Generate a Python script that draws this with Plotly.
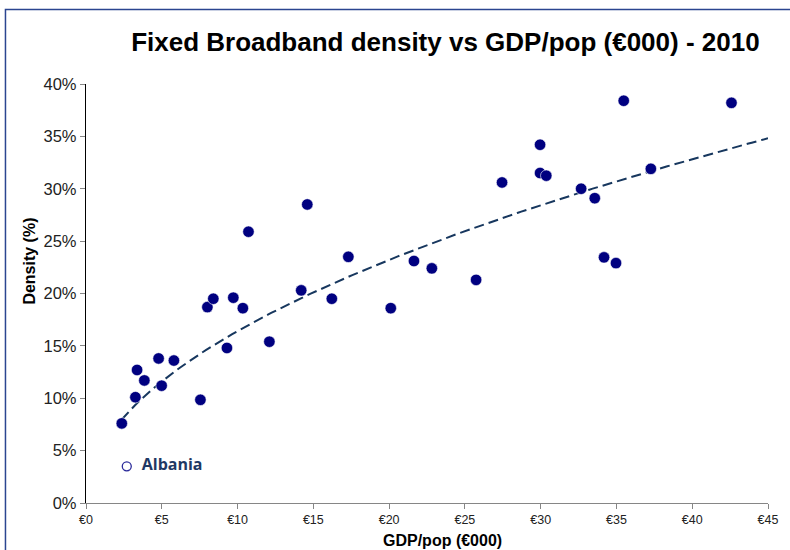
import numpy as np
import plotly.graph_objects as go

# GDP per capita (EUR 000) and fixed broadband density (%) - 2010
gdp = [2.36, 3.26, 3.37, 3.85, 4.79, 4.99, 5.80, 7.55, 8.01, 8.40, 9.30, 9.72,
       10.35, 10.72, 12.10, 14.20, 14.60, 16.22, 17.31, 20.11, 21.64, 22.82,
       25.74, 27.45, 29.96, 29.96, 30.37, 32.67, 33.57, 34.18, 34.97, 35.48,
       37.27, 42.59]
density = [7.6, 10.1, 12.7, 11.7, 13.8, 11.2, 13.6, 9.85, 18.7, 19.5, 14.8, 19.6,
           18.6, 25.9, 15.4, 20.3, 28.5, 19.5, 23.5, 18.6, 23.1, 22.4,
           21.3, 30.6, 34.2, 31.5, 31.25, 30.0, 29.1, 23.45, 22.9, 38.4,
           31.9, 38.2]

albania_gdp = [2.69]
albania_density = [3.5]

x_ticks = [0, 5, 10, 15, 20, 25, 30, 35, 40, 45]
y_ticks = [0, 5, 10, 15, 20, 25, 30, 35, 40]

# power trendline y = a * x^b
trend_a = 5.19
trend_b = 0.5
tx = np.linspace(min(gdp), 45, 200)
ty = trend_a * tx ** trend_b

fig = go.Figure()
fig.add_trace(go.Scatter(
    x=tx, y=ty, mode="lines",
    line=dict(color="#17375E", width=2, dash="10px,5px"),
    hoverinfo="skip", showlegend=False))
fig.add_trace(go.Scatter(
    x=gdp, y=density, mode="markers",
    marker=dict(color="#000080", size=11.5, line=dict(width=0.6, color="white")),
    showlegend=False))
fig.add_trace(go.Scatter(
    x=albania_gdp, y=albania_density, mode="markers+text",
    marker=dict(symbol="circle-open", color="#2A2A9A", size=9, line=dict(width=1.3)),
    text=["  Albania"], textposition="middle right",
    textfont=dict(family="Open Sans", size=16, color="#1F3864", weight="bold"),
    showlegend=False))

L, T = 86, 84
W, H = 790, 550
pw, ph = 772 - L, 503.5 - T

fig.update_layout(
    width=W, height=H,
    margin=dict(l=L, r=W - 772, t=T, b=H - 503.5),
    paper_bgcolor="white", plot_bgcolor="white",
    font=dict(family="Liberation Sans, Arial, sans-serif", color="#1a1a1a"),
    title=dict(text="<b>Fixed Broadband density vs GDP/pop (€000) - 2010</b>",
               x=(447.5 - L) / pw, xref="paper", xanchor="center",
               y=1 - 42 / H, yref="container", yanchor="middle",
               font=dict(size=26, color="black")),
    xaxis=dict(range=[0, 45], tickvals=x_ticks, ticktext=["€%d" % v for v in x_ticks],
               showgrid=False, zeroline=False, showline=True, linecolor="#868686",
               linewidth=1.3, ticks="outside", ticklen=5, tickcolor="#868686",
               tickfont=dict(size=12.5, color="#222")),
    yaxis=dict(range=[0, 40], tickvals=y_ticks, ticktext=["%d%%" % v for v in y_ticks],
               showgrid=False, zeroline=False, showline=True, linecolor="black",
               linewidth=1.3, ticks="outside", ticklen=5, tickcolor="#868686",
               tickfont=dict(size=16.5, color="#222")),
    shapes=[dict(type="rect", xref="paper", yref="paper",
                 x0=(5 - L) / pw, x1=(800 - L) / pw,
                 y0=-(560 - 503.5) / ph, y1=1 + (T - 9.5) / ph,
                 line=dict(color="#2B4590", width=1.5))],
    annotations=[
        dict(text="<b>Density (%)</b>", textangle=-90, showarrow=False,
             xref="paper", yref="paper", x=(29.5 - L) / pw, y=(503.5 - 261) / ph,
             xanchor="center", yanchor="middle", font=dict(size=16, color="black")),
        dict(text="<b>GDP/pop (€000)</b>", showarrow=False,
             xref="paper", yref="paper", x=(445 - L) / pw, y=-(541 - 503.5) / ph,
             xanchor="center", yanchor="middle", font=dict(size=16, color="black")),
    ],
)

fig.write_html("out.html", config={"displayModeBar": False},
               post_script="document.body.style.margin='0';")
